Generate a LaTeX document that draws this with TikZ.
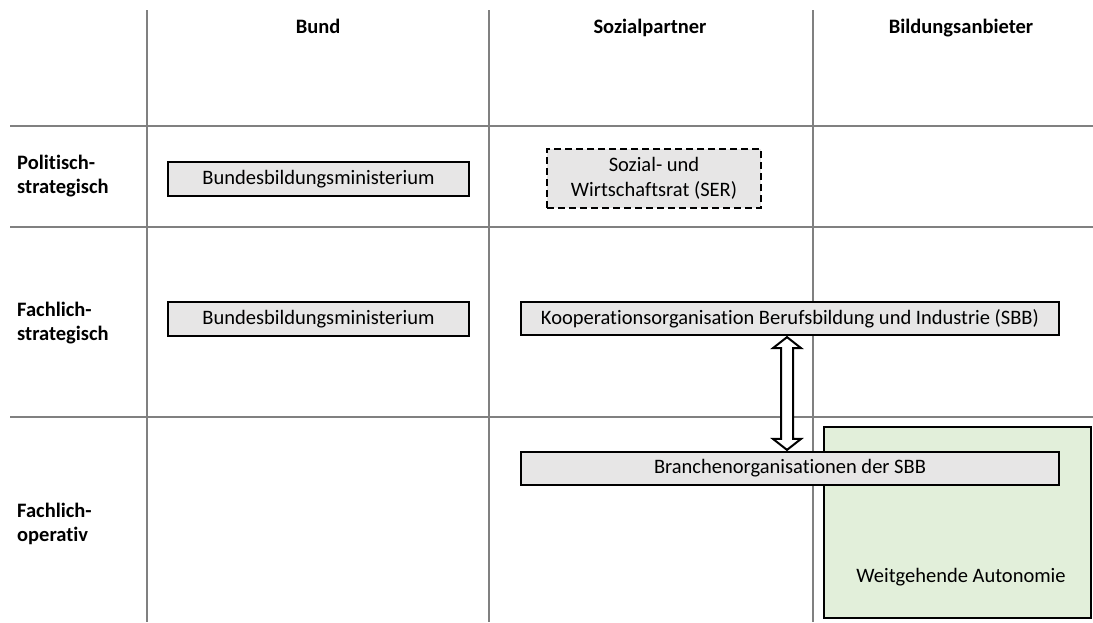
\documentclass[tikz,border=0pt]{standalone}
\usepackage{fontspec}
\setmainfont{Carlito}[RawFeature=-liga]
\usetikzlibrary{calc}
\definecolor{boxgray}{HTML}{E7E6E6}
\definecolor{autogreen}{HTML}{E2EFDA}
\definecolor{gridgray}{HTML}{808080}
\begin{document}
\begin{tikzpicture}[x=1pt,y=-1pt,
  gridline/.style={draw=gridgray, line width=1.5pt},
  head/.style={font=\fontsize{20.5}{23}\selectfont\bfseries, inner sep=0pt, anchor=base},
  rowlab/.style={font=\fontsize{20.5}{24}\selectfont\bfseries, align=left, anchor=west, inner sep=0pt},
  orgbox/.style={draw=black, line width=2.2pt, fill=boxgray, inner sep=0pt,
    font=\fontsize{20.5}{25}\selectfont, align=center},
  serbox/.style={orgbox, dashed, dash pattern=on 7pt off 4pt, line width=2pt},
  greenbox/.style={draw=black, line width=2.2pt, fill=autogreen, inner sep=0pt},
  plain/.style={font=\fontsize{20.5}{24}\selectfont, inner sep=0pt},
  blockarrow/.style={draw=black, fill=white, line width=2pt, line join=miter}
]
\useasboundingbox (0,0) rectangle (1093,622);
% grid
\draw[gridline] (147,10) -- (147,622);
\draw[gridline] (489,10) -- (489,622);
\draw[gridline] (813,10) -- (813,622);
\draw[gridline] (10,126) -- (1093,126);
\draw[gridline] (10,227) -- (1093,227);
\draw[gridline] (10,417) -- (1093,417);
% headers
\node[head] (hbund) at (318,33) {Bund};
\node[head] (hsozial) at (650,33) {Sozialpartner};
\node[head] (hbildung) at (961,33) {Bildungsanbieter};
% row labels
\node[rowlab] (rpol) at (17,176) {Politisch-\\strategisch};
\node[rowlab] (rfs) at (17,323) {Fachlich-\\strategisch};
\node[rowlab] (rfo) at (17,524) {Fachlich-\\operativ};
% green area
\node[greenbox, minimum width=267pt, minimum height=191pt] (autonomie) at (957.5,522.5) {};
\node[plain] (autotext) at (961,577) {Weitgehende Autonomie};
% boxes
\node[orgbox, minimum width=301pt, minimum height=34pt] (bbm1) at (318.5,179) {Bundesbildungsministerium};
\node[serbox, minimum width=214pt, minimum height=59pt] (ser) at (654,178.5) {Sozial- und\\Wirtschaftsrat (SER)};
\node[orgbox, minimum width=301pt, minimum height=34pt] (bbm2) at (318.5,319) {Bundesbildungsministerium};
\node[orgbox, minimum width=538pt, minimum height=33pt] (koop) at (790,318.5) {Kooperationsorganisation Berufsbildung und Industrie (SBB)};
\node[orgbox, minimum width=538pt, minimum height=33pt] (branch) at (790,468.5) {Branchenorganisationen der SBB};
% double block arrow
\coordinate (at) at ($(koop.south)+(-3,1)$);
\coordinate (ab) at ($(branch.north)+(-3,-1)$);
\draw[blockarrow] (at) -- ++(-14,11) -- ++(8,0) -- ($(ab)+(-6,-11)$) -- ++(-8,0) -- (ab)
  -- ++(14,-11) -- ++(-8,0) -- ($(at)+(6,11)$) -- ++(8,0) -- cycle;
\end{tikzpicture}
\end{document}
